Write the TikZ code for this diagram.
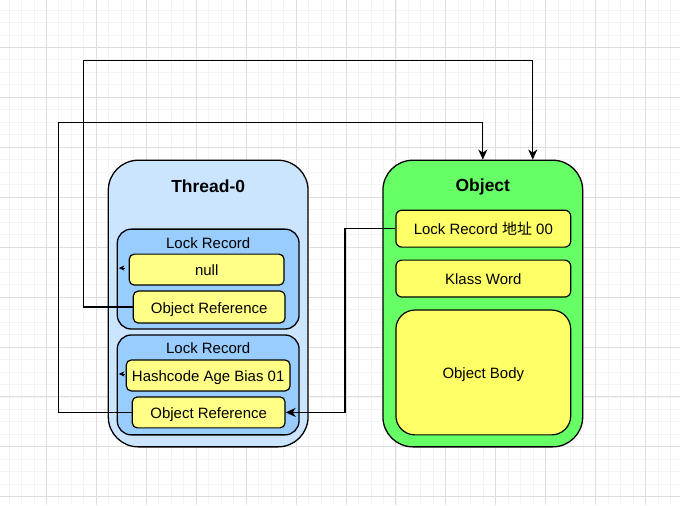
\documentclass[tikz,border=0pt]{standalone}
\usepackage{fontspec}
\setmainfont{Liberation Sans}
\newfontfamily\cjk{Noto Sans CJK SC}
\usepackage{tikz}
\usetikzlibrary{positioning, arrows.meta}
\definecolor{threadBlue}{HTML}{CCE5FF}
\definecolor{recordBlue}{HTML}{99CCFF}
\definecolor{slotYellow}{HTML}{FFFF88}
\definecolor{wordYellow}{HTML}{FFFF66}
\definecolor{objGreen}{HTML}{66FF66}
\definecolor{gridMinor}{HTML}{F3F3F3}
\definecolor{gridMajor}{HTML}{DEDEDE}
\tikzstyle{bigBox}=[draw,rectangle,line width=1.3pt,minimum width=200pt,minimum height=287pt,rounded corners=30pt,inner sep=0pt]
\tikzstyle{recordBox}=[draw,rectangle,line width=1.3pt,fill=recordBlue,minimum width=182pt,minimum height=100pt,rounded corners=14pt,inner sep=0pt]
\tikzstyle{slotBox}=[draw,rectangle,line width=1.2pt,fill=slotYellow,minimum height=31pt,rounded corners=5pt,inner sep=0pt,text height=12pt,text depth=0pt,font=\fontsize{15}{18}\selectfont]
\tikzstyle{wordBox}=[draw,rectangle,line width=1.2pt,fill=wordYellow,minimum width=175pt,minimum height=37pt,rounded corners=6pt,inner sep=0pt,text height=12pt,text depth=0pt,font=\fontsize{15}{18}\selectfont]
\tikzstyle{titleText}=[text height=13.5pt,text depth=0pt,font=\bfseries\fontsize{17.5}{21}\selectfont]
\tikzstyle{plainText}=[text height=12pt,text depth=0pt,font=\fontsize{15}{18}\selectfont]
\tikzstyle{refLink}=[-{Stealth[length=10pt,width=9pt,inset=3pt]}, line width=1.3pt]
\tikzstyle{tipOnly}=[-{Stealth[length=5.5pt,width=5pt,inset=1.5pt]}, line width=0.8pt]

\begin{document}
\begin{tikzpicture}[x=1pt,y=-1pt]

    % grid
    \fill[white] (0,0) rectangle (680,505);
    \foreach \gx in {0,...,53} \draw[gridMinor, line width=0.8pt] ({8.5+12.5*\gx},0) -- ({8.5+12.5*\gx},505);
    \foreach \gy in {0,...,39} \draw[gridMinor, line width=0.8pt] (0,{9.5+12.5*\gy}) -- (680,{9.5+12.5*\gy});
    \foreach \gx in {0,...,12} \draw[gridMajor, line width=0.9pt] ({46+50*\gx},0) -- ({46+50*\gx},505);
    \foreach \gy in {0,...,9} \draw[gridMajor, line width=0.9pt] (0,{47+50*\gy}) -- (680,{47+50*\gy});
    \useasboundingbox (0,0) rectangle (680,505);

    \node[bigBox, fill=threadBlue] (thread) at (208,303.5) {};
    \node[titleText] (threadTitle) at (208,186) {Thread-0};
    \node[recordBox] (lr1) at (208,279) {};
    \node[plainText] (lr1Title) at (208,242) {Lock Record};
    \node[slotBox, minimum width=155pt] (nul) at (206.5,269.5) {null};
    \node[slotBox, minimum width=152pt, minimum height=32pt] (objref1) at (209,307) {Object Reference};
    \node[recordBox] (lr2) at (208,385) {};
    \node[plainText] (lr2Title) at (208,348) {Lock Record};
    \node[slotBox, minimum width=164pt] (hash) at (208,375.5) {Hashcode Age Bias 01};
    \node[slotBox, minimum width=153pt] (objref2) at (208.5,412.5) {Object Reference};

    \node[bigBox, fill=objGreen] (object) at (483,303.5) {};
    \node[titleText] (objTitle) at (483,185) {Object};
    \node[wordBox] (lockword) at (483.5,228.5) {Lock Record {\cjk 地址} 00};
    \node[wordBox] (klass) at (483.5,278.5) {Klass Word};
    \node[wordBox, minimum height=125pt, rounded corners=19pt] (body) at (483.5,372.5) {Object Body};

    \coordinate (c1) at (83,60);
    \coordinate (c2) at (58,122);
    \coordinate (c3) at (345,228.5);
    \coordinate (t1) at (124.5,268);
    \coordinate (t2) at (124.5,374);

    \draw[refLink] (lockword.west) -- (c3) |- (objref2.east);
    \draw[refLink] (objref1.west) -| (c1) -| ([xshift=50pt]object.north);
    \draw[refLink] (objref2.west) -| (c2) -| (object.north);
    \draw[tipOnly] (t1) -- ++(-6,0);
    \draw[tipOnly] (t2) -- ++(-6,0);

\end{tikzpicture}
\end{document}
